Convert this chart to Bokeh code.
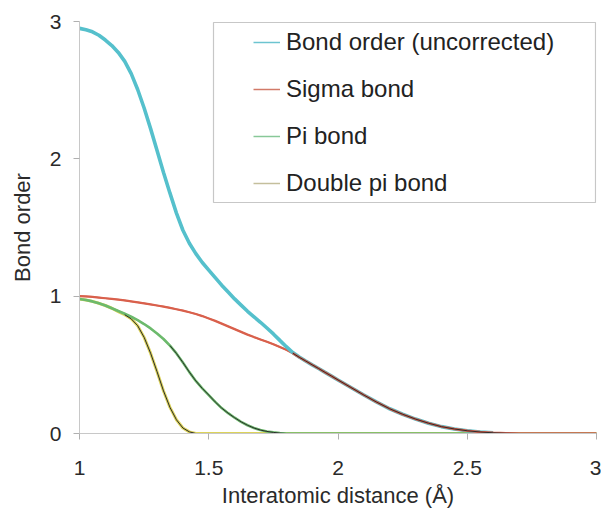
import numpy as np
from bokeh.plotting import figure
from bokeh.models import Range1d, FixedTicker, Legend, LegendItem, BoxAnnotation
from bokeh.embed import file_html
from bokeh.resources import INLINE

# ---- data ----
distance = [1.0, 1.025, 1.05, 1.075, 1.1, 1.125, 1.15, 1.175, 1.2, 1.225, 1.25,
            1.275, 1.3, 1.325, 1.35, 1.375, 1.4, 1.425, 1.45, 1.475, 1.5, 1.525,
            1.55, 1.575, 1.6, 1.625, 1.65, 1.675, 1.7, 1.725, 1.75, 1.775, 1.8,
            1.825, 1.85, 1.875, 1.9, 1.925, 1.95, 1.975, 2.0,
            2.05, 2.1, 2.15, 2.2, 2.25, 2.3, 2.35, 2.4, 2.45, 2.5, 2.55, 2.6,
            2.65, 2.7, 2.8, 2.9, 3.0]
bond_order = [2.950, 2.940, 2.925, 2.900, 2.865, 2.825, 2.775, 2.710, 2.620, 2.505,
              2.370, 2.220, 2.060, 1.900, 1.750, 1.605, 1.480, 1.385, 1.310, 1.245,
              1.190, 1.135, 1.080, 1.030, 0.980, 0.935, 0.890, 0.850, 0.810, 0.768,
              0.725, 0.678, 0.632, 0.590, 0.557, 0.528, 0.500, 0.473, 0.445, 0.418,
              0.390,
              0.335, 0.280, 0.228, 0.180, 0.140, 0.105, 0.075, 0.050, 0.033, 0.020,
              0.011, 0.005, 0.002, 0.0, 0.0, 0.0, 0.0]
sigma_bond = [1.000, 0.998, 0.995, 0.990, 0.985, 0.980, 0.975, 0.969, 0.962, 0.955,
              0.948, 0.940, 0.932, 0.924, 0.915, 0.905, 0.895, 0.883, 0.870, 0.855,
              0.838, 0.820, 0.800, 0.780, 0.760, 0.740, 0.720, 0.702, 0.685, 0.668,
              0.650, 0.630, 0.610, 0.585, 0.555, 0.528, 0.500, 0.473, 0.445, 0.418,
              0.390,
              0.335, 0.280, 0.228, 0.180, 0.140, 0.105, 0.075, 0.050, 0.033, 0.020,
              0.011, 0.005, 0.002, 0.0, 0.0, 0.0, 0.0]
pi_bond = [0.980, 0.972, 0.962, 0.948, 0.932, 0.912, 0.892, 0.872, 0.850, 0.825,
           0.797, 0.765, 0.728, 0.688, 0.640, 0.583, 0.517, 0.447, 0.383, 0.328,
           0.280, 0.230, 0.185, 0.148, 0.115, 0.085, 0.060, 0.040, 0.025, 0.015,
           0.008, 0.003, 0.0, 0.0, 0.0, 0.0, 0.0, 0.0, 0.0, 0.0, 0.0,
           0.0, 0.0, 0.0, 0.0, 0.0, 0.0, 0.0, 0.0, 0.0, 0.0, 0.0, 0.0, 0.0, 0.0,
           0.0, 0.0, 0.0]
double_pi_bond = [0.980, 0.972, 0.962, 0.948, 0.932, 0.912, 0.888, 0.865, 0.835,
                  0.785, 0.700, 0.585, 0.450, 0.310, 0.190, 0.100, 0.040, 0.012,
                  0.0, 0.0, 0.0, 0.0, 0.0, 0.0, 0.0, 0.0, 0.0, 0.0, 0.0, 0.0, 0.0,
                  0.0, 0.0, 0.0, 0.0, 0.0, 0.0, 0.0, 0.0, 0.0, 0.0,
                  0.0, 0.0, 0.0, 0.0, 0.0, 0.0, 0.0, 0.0, 0.0, 0.0, 0.0, 0.0, 0.0,
                  0.0, 0.0, 0.0, 0.0]
series_names = ["Bond order (uncorrected)", "Sigma bond", "Pi bond", "Double pi bond"]
x_ticks = [1, 1.5, 2, 2.5, 3]
y_ticks = [0, 1, 2, 3]
x_label = "Interatomic distance (Å)"
y_label = "Bond order"

FONT = "Liberation Sans"
x = np.array(distance)
bo = np.array(bond_order)
sg = np.array(sigma_bond)
pb = np.array(pi_bond)
dp = np.array(double_pi_bond)

p = figure(width=601, height=514, output_backend="svg", toolbar_location=None,
           x_range=Range1d(1, 3), y_range=Range1d(0, 3),
           min_border_left=79, min_border_right=5, min_border_top=21,
           min_border_bottom=81)
p.outline_line_color = None
p.grid.grid_line_color = None
p.background_fill_color = "white"
p.border_fill_color = "white"

for ax in (p.xaxis[0], p.yaxis[0]):
    ax.axis_line_color = "#c8c8c8"
    ax.major_tick_line_color = "#b0b0b0"
    ax.major_tick_out = 6
    ax.major_tick_in = 0
    ax.minor_tick_line_color = None
    ax.major_label_text_font = FONT
    ax.major_label_text_font_size = "21px"
    ax.major_label_text_color = "#2a2a2a"
    ax.axis_label_text_font = FONT
    ax.axis_label_text_font_size = "22px"
    ax.axis_label_text_font_style = "normal"
    ax.axis_label_text_color = "#2a2a2a"

p.xaxis.ticker = FixedTicker(ticks=x_ticks)
p.yaxis.ticker = FixedTicker(ticks=y_ticks)
p.xaxis.major_label_overrides = {1: "1", 1.5: "1.5", 2: "2", 2.5: "2.5", 3: "3"}
p.xaxis.axis_label = x_label
p.yaxis.axis_label = y_label
p.xaxis.major_label_standoff = 21
p.xaxis.axis_label_standoff = 5
p.yaxis.major_label_standoff = 12
p.yaxis.axis_label_standoff = 12

# legend-only thin lines (hidden beneath the main curves)
leg_cols = ["#6cc4d0", "#d27a68", "#88c898", "#c4bf9c"]
leg_data = [bo, sg, pb, dp]
leg_renderers = []
for ys, c in zip(leg_data, leg_cols):
    leg_renderers.append(p.line(x, ys, line_color=c, line_width=1.5))

# main curves
p.line(x, sg, line_color="#d9604c", line_width=2.2)
p.line(x, dp, line_color="#dcd35a", line_width=3)
p.line(x, pb, line_color="#6cba6c", line_width=2.6)
mb = x <= 2.6
p.line(x[mb], bo[mb], line_color="#55c0cc", line_width=3.6)

# sigma tail drawn over the merged part, then thin dark overlay traces
m3 = x >= 1.825
p.line(x[m3], sg[m3], line_color="#d9604c", line_width=2.4)
dark = "#2b2b2b"
m1 = x >= 1.175
p.line(x[m1], dp[m1], line_color=dark, line_width=1)
m2 = x >= 1.35
p.line(x[m2], pb[m2], line_color=dark, line_width=1)
p.line(x[m3], sg[m3], line_color=dark, line_width=1)

legend = Legend(items=[LegendItem(label=n, renderers=[r])
                       for n, r in zip(series_names, leg_renderers)],
                location=(174, 227))
legend.border_line_alpha = 0
legend.background_fill_alpha = 0
legend.padding = 0
legend.margin = 0
legend.spacing = 1
legend.label_height = 46
legend.glyph_height = 20
legend.glyph_width = 27
legend.label_standoff = 6
legend.label_text_font = FONT
legend.label_text_font_size = "24px"
legend.label_text_color = "#222222"
p.add_layout(legend)

frame_box = BoxAnnotation(left=134, right=516, bottom=231, top=411,
                          left_units="screen", right_units="screen",
                          top_units="screen", bottom_units="screen",
                          fill_alpha=0, line_color="#444444", line_width=1.2)
p.add_layout(frame_box)

open("out.html", "w").write(file_html(p, INLINE))
